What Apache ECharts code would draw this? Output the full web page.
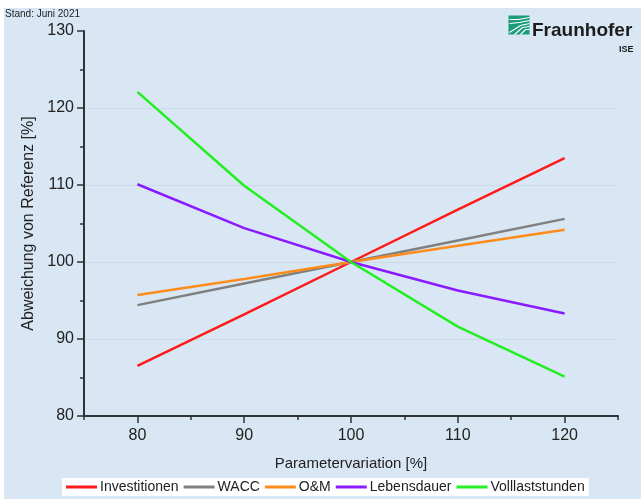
<!DOCTYPE html>
<html><head><meta charset="utf-8">
<script src="https://cdn.jsdelivr.net/npm/echarts@6/dist/echarts.min.js"></script>
<style>html,body{margin:0;padding:0;background:#fff}#c{width:641px;height:499px}</style>
</head><body><div id="c"></div>
<script>
const categories = [80, 90, 100, 110, 120];
const investitionen = [86.5, 93.2, 100, 106.8, 113.5];
const wacc = [94.4, 97.2, 100, 102.8, 105.6];
const om = [95.7, 97.8, 100, 102.1, 104.2];
const lebensdauer = [110.1, 104.4, 100, 96.3, 93.3];
const volllaststunden = [122.1, 109.9, 100, 91.6, 85.1];
const seriesNames = ['Investitionen', 'WACC', 'O&M', 'Lebensdauer', 'Volllaststunden'];
const seriesColors = ['#ff1a1a', '#808080', '#ff8c1a', '#8a1aff', '#22ee22'];
const xTicks = [80, 90, 100, 110, 120];
const xMinorTicks = [75, 85, 95, 105, 115, 125];

const allData = [investitionen, wacc, om, lebensdauer, volllaststunden];
const font = '"Liberation Sans", Arial, sans-serif';
const chart = echarts.init(document.getElementById('c'), null, {renderer: 'canvas'});
const axisCol = '#2e3338';
chart.setOption({
  backgroundColor: '#ffffff',
  animation: false,
  graphic: [
    {type: 'rect', z: -10, shape: {x: 4, y: 8, width: 637, height: 491}, style: {fill: '#d8e7f3'}},
    {type: 'text', left: 5, top: 9, z: 100, style: {text: 'Stand: Juni 2021', font: '10px ' + font, fill: '#222'}},
    {type: 'group', left: 507, top: 15, z: 100, children: [
      {type: 'rect', shape: {x: 0, y: 0, width: 21, height: 19}, style: {fill: '#1a9c7a'}},
      {type: 'polyline', shape: {points: [[1, 4], [10, 4], [21, 2]]}, style: {stroke: '#fff', lineWidth: 1.2, fill: null}},
      {type: 'polyline', shape: {points: [[1, 8], [11, 7], [21, 5]]}, style: {stroke: '#fff', lineWidth: 1.2, fill: null}},
      {type: 'polyline', shape: {points: [[1, 17], [12, 10], [21, 8]]}, style: {stroke: '#fff', lineWidth: 1.2, fill: null}},
      {type: 'polyline', shape: {points: [[6, 19], [14, 12], [21, 11]]}, style: {stroke: '#fff', lineWidth: 1.2, fill: null}},
      {type: 'polyline', shape: {points: [[12, 19], [17, 14], [21, 14]]}, style: {stroke: '#fff', lineWidth: 1.2, fill: null}}
    ]},
    {type: 'text', left: 532, top: 21, z: 100, style: {text: 'Fraunhofer', font: 'bold 19px ' + font, fill: '#1c1c1c'}},
    {type: 'text', left: 619, top: 45, z: 100, style: {text: 'ISE', font: 'bold 9px ' + font, fill: '#1c1c1c'}}
  ],
  grid: {left: 84, right: 23, top: 31, bottom: 83},
  legend: {
    data: seriesNames,
    left: 62, top: 478,
    backgroundColor: '#ffffff',
    padding: [2, 4, 2, 4],
    itemWidth: 31, itemHeight: 3, itemGap: 5,
    icon: 'rect',
    textStyle: {fontFamily: font, fontSize: 14, color: '#222', padding: [0, 0, 0, -2]}
  },
  xAxis: [{
    type: 'value', min: 75, max: 125, interval: 5,
    name: 'Parametervariation [%]', nameLocation: 'middle', nameGap: 40,
    nameTextStyle: {fontFamily: font, fontSize: 15, color: '#222'},
    axisLine: {show: true, lineStyle: {color: axisCol, width: 2}},
    axisTick: {show: true, customValues: xTicks, length: 7, lineStyle: {color: axisCol, width: 1.5}},
    axisLabel: {customValues: xTicks, fontFamily: font, fontSize: 16, color: '#222', margin: 12},
    splitLine: {show: false}
  }, {
    type: 'value', min: 75, max: 125, interval: 5, position: 'bottom',
    axisLine: {show: false},
    axisTick: {show: true, customValues: xMinorTicks, length: 4, lineStyle: {color: axisCol, width: 1.5}},
    axisLabel: {show: false},
    splitLine: {show: false}
  }],
  yAxis: {
    type: 'value', min: 80, max: 130, interval: 10,
    name: 'Abweichung von Referenz [%]', nameLocation: 'middle', nameGap: 42,
    nameTextStyle: {fontFamily: font, fontSize: 16, color: '#222'},
    axisLine: {show: true, lineStyle: {color: axisCol, width: 2}},
    axisTick: {show: true, length: 7, lineStyle: {color: axisCol, width: 1.5}},
    minorTick: {show: true, splitNumber: 2, length: 4, lineStyle: {color: axisCol, width: 1.5}},
    axisLabel: {fontFamily: font, fontSize: 16, color: '#222', margin: 10},
    splitLine: {show: true, showMaxLine: false, lineStyle: {color: '#c9dae8', width: 1}}
  },
  series: allData.map((arr, i) => ({
    name: seriesNames[i], type: 'line',
    data: categories.map((c, j) => [c, arr[j]]),
    showSymbol: false, symbol: 'none',
    lineStyle: {color: seriesColors[i], width: 2.5},
    itemStyle: {color: seriesColors[i]}
  }))
});
</script></body></html>
